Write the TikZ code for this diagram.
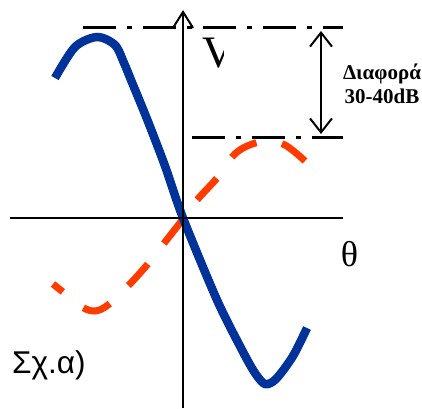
\documentclass[tikz,border=0pt]{standalone}
\usepackage{fontspec}
\setmainfont{Liberation Serif}
\newfontfamily\sfarial{Liberation Sans}
\usetikzlibrary{arrows.meta}
\definecolor{cblue}{RGB}{0,51,153}
\definecolor{cred}{RGB}{255,59,0}
\tikzset{
  axisline/.style={line width=2pt, black},
  dashdotline/.style={line width=3pt, black, dash pattern=on 33pt off 11pt on 5pt off 11pt},
  bluecurve/.style={line width=8.5pt, cblue},
  redcurve/.style={line width=7pt, cred, dash pattern=on 29pt off 26pt},
}
\begin{document}
\begin{tikzpicture}[x=1pt,y=-1pt]
\useasboundingbox (0,0) rectangle (422,408);
% curves
\draw[redcurve] plot[smooth, tension=0.55] coordinates {(305,161) (285,145) (265,141) (245,147) (232,157) (217,178) (197,200) (183,219) (165,242) (147,265) (127,287) (108,305) (95,311) (82,307) (63,292) (53,284)};
\draw[bluecurve] plot[smooth, tension=0.5] coordinates {(55,78) (75,47) (97,37) (115,45) (124,63) (131,80) (147,119) (165,166) (183,218) (217,300) (242,350) (255,373) (265,384) (276,379) (293,356) (307,328)};
% axes
\coordinate (xl) at (10,218);
\coordinate (xr) at (343,218);
\coordinate (yb) at (183,408);
\coordinate (yt) at (183,10);
\draw[axisline] (xl) -- (xr);
\draw[axisline, -{Straight Barb[length=16pt,width=20pt]}] (yb) -- (yt);
% dash-dot level lines
\coordinate (t1) at (83,27);
\coordinate (t2) at (343,27);
\coordinate (b1) at (192,137);
\coordinate (b2) at (343,137);
\draw[dashdotline] (t1) -- (t2);
\draw[dashdotline] (b1) -- (b2);
% difference arrow
\coordinate (d1) at (321,31);
\coordinate (d2) at (321,134);
\draw[axisline, {Straight Barb[length=14pt,width=22pt]}-{Straight Barb[length=14pt,width=22pt]}] (d1) -- (d2);
\node[font=\bfseries\fontsize{21}{24}\selectfont, align=center, inner sep=0pt] (diff) at (382,84) {Διαφορά\\30-40dB};
% labels
\begin{scope}
\clip (190,20) rectangle (223,80);
\node[font=\fontsize{45}{45}\selectfont, anchor=base west, inner sep=0pt] (vlab) at (202,67) {V};
\end{scope}
\node[font=\fontsize{36}{36}\selectfont, inner sep=0pt] (theta) at (349.5,254) {θ};
\node[font=\sfarial\fontsize{31.5}{31.5}\selectfont, anchor=base west, inner sep=0pt] (cap) at (12,373) {Σχ.α)};
\end{tikzpicture}
\end{document}
